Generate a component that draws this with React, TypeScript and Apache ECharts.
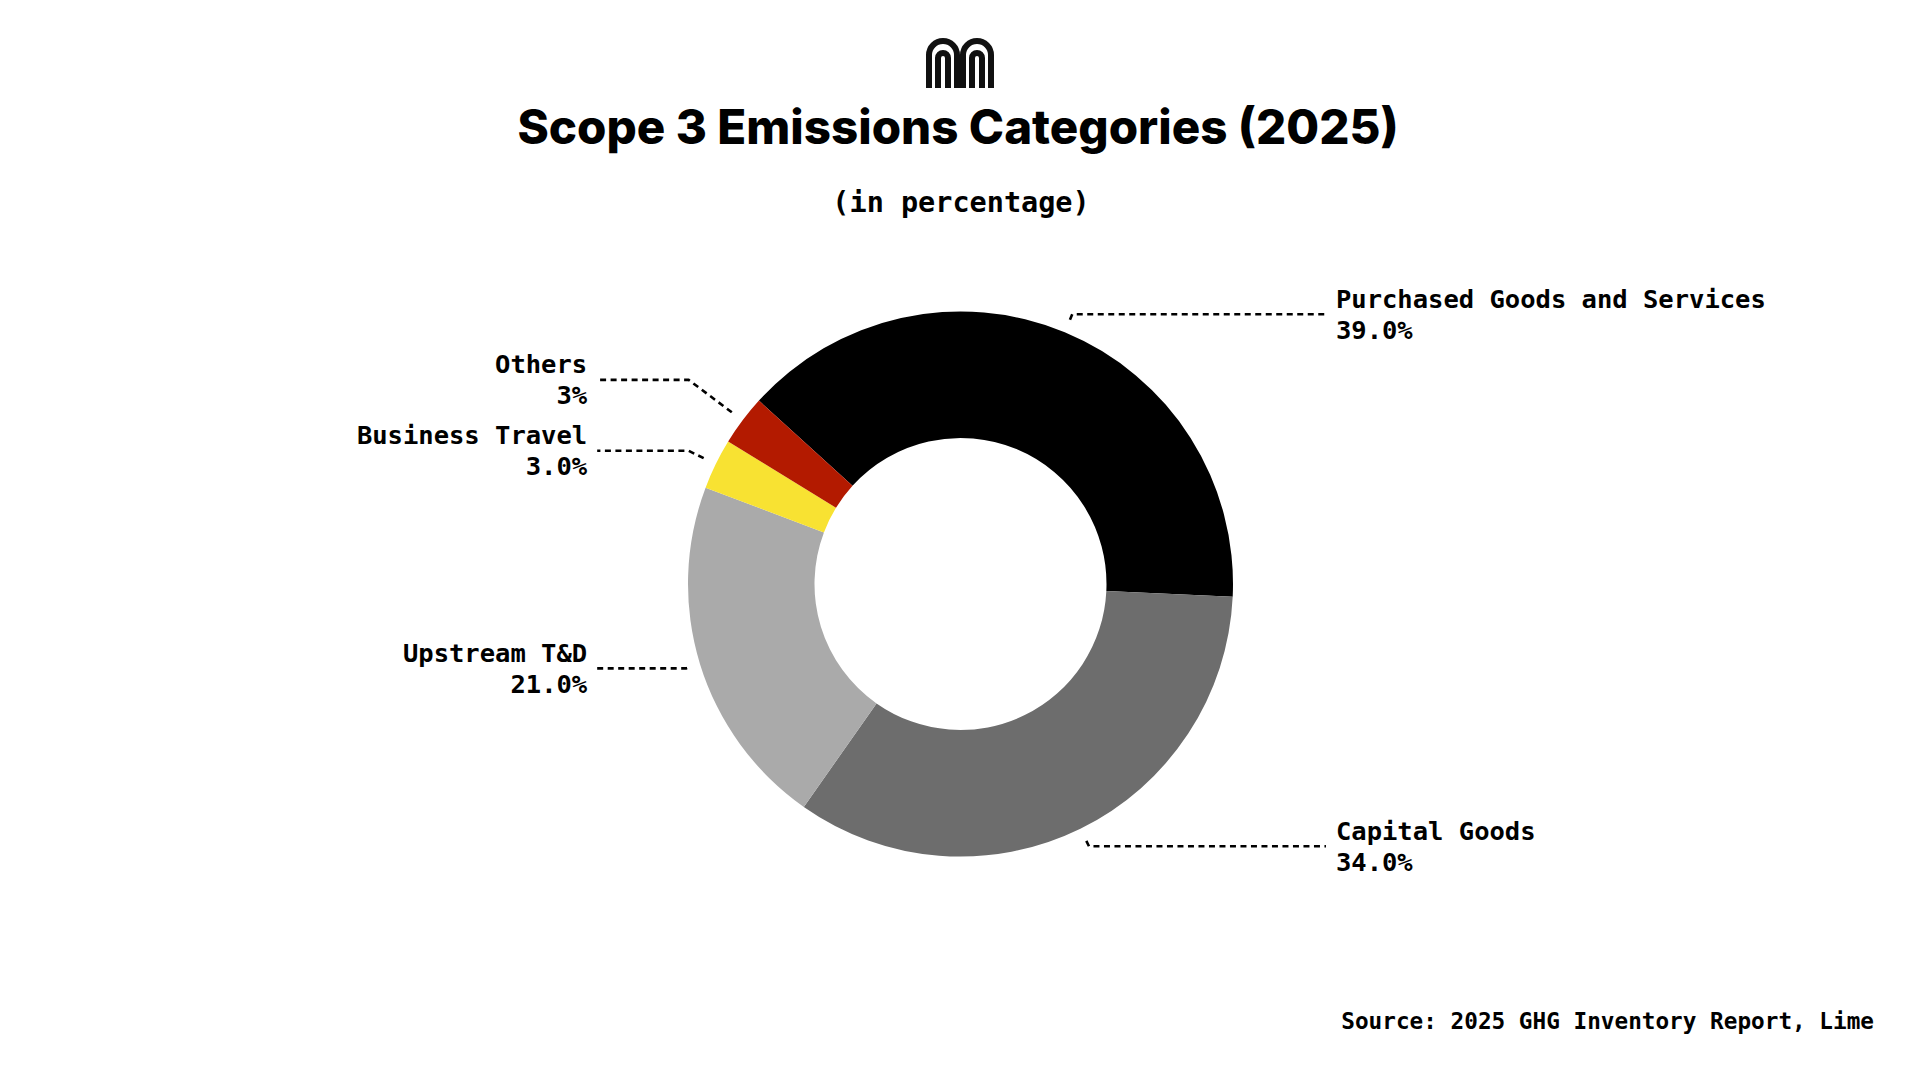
import React, { useEffect, useRef } from "react";
import * as echarts from "echarts";

// ---- data ----
const categories = [
  "Purchased Goods and Services",
  "Capital Goods",
  "Upstream T&D",
  "Business Travel",
  "Others",
];
const shares = [39, 34, 21, 3, 3];
const shareDecimals = [1, 1, 1, 1, 0];
const sliceColors = ["#000000", "#6d6d6d", "#aaaaaa", "#f8e232", "#b31a00"];

const titleText = "Scope 3 Emissions Categories (2025)";
const subtitleText = "(in percentage)";
const sourceText = "Source: 2025 GHG Inventory Report, Lime";

// ---- layout / style ----
const START_ANGLE = 137.7;
const CENTER: [number, number] = [960.5, 584];
const MONO = "'DejaVu Sans Mono', 'Liberation Mono', monospace";

const LOGO_D =
  "M3 50 L3 17 A14 14 0 0 1 31 17 L31 50 " +
  "M12 50 L12 20 A5 5 0 0 1 22 20 L22 50 " +
  "M37 50 L37 17 A14 14 0 0 1 65 17 L65 50 " +
  "M46 50 L46 20 A5 5 0 0 1 56 20 L56 50";

let logoRegistered = false;
function ensureLogo() {
  if (logoRegistered) return;
  echarts.graphic.registerShape("limeLogo", echarts.graphic.extendPath(LOGO_D, {}));
  logoRegistered = true;
}

function leaderLength(name: string) {
  if (name === "Others") return 54;
  if (name === "Business Travel") return 17;
  if (name === "Upstream T&D") return 1;
  return 6;
}

function buildOption() {
  const total = shares.reduce((a, b) => a + b, 0);
  let acc = 0;
  const sides = shares.map((v) => {
    const mid = (((90 - START_ANGLE + ((acc + v / 2) / total) * 360) % 360) + 360) % 360;
    acc += v;
    return mid < 180 ? "right" : "left";
  });

  const ringData = categories.map((name, i) => ({
    name,
    value: shares[i],
    itemStyle: { color: sliceColors[i] },
  }));

  const labelData = categories.map((name, i) => ({
    name,
    value: shares[i],
    labelLine: {
      length: leaderLength(name),
      length2: sides[i] === "right" ? 237 : 89,
    },
  }));

  return {
    animation: false,
    backgroundColor: "#ffffff",
    graphic: [
      {
        type: "limeLogo",
        x: 926,
        y: 38,
        silent: true,
        style: { fill: "none", stroke: "#111111", lineWidth: 6 },
      },
      {
        type: "text",
        x: 958,
        y: 126,
        silent: true,
        style: {
          text: titleText,
          fontFamily: "Inter, 'Liberation Sans', sans-serif",
          fontWeight: 800,
          fontSize: 47.5,
          fill: "#000000",
          align: "center",
          verticalAlign: "middle",
        },
      },
      {
        type: "text",
        x: 961,
        y: 202,
        silent: true,
        style: {
          text: subtitleText,
          fontFamily: MONO,
          fontWeight: "bold",
          fontSize: 28.5,
          fill: "#000000",
          align: "center",
          verticalAlign: "middle",
        },
      },
      {
        type: "text",
        x: 1874,
        y: 1021,
        silent: true,
        style: {
          text: sourceText,
          fontFamily: MONO,
          fontWeight: "bold",
          fontSize: 22.7,
          fill: "#000000",
          align: "right",
          verticalAlign: "middle",
        },
      },
    ],
    series: [
      {
        type: "pie",
        name: "ring",
        center: CENTER,
        radius: [146, 272.5],
        startAngle: START_ANGLE,
        clockwise: true,
        silent: true,
        label: { show: false },
        labelLine: { show: false },
        emphasis: { disabled: true },
        itemStyle: { borderWidth: 0 },
        data: ringData,
      },
      {
        type: "pie",
        name: "labels",
        center: CENTER,
        radius: [285, 286],
        startAngle: START_ANGLE,
        clockwise: true,
        silent: true,
        avoidLabelOverlap: true,
        emphasis: { disabled: true },
        itemStyle: { color: "rgba(0,0,0,0)", borderWidth: 0 },
        label: {
          show: true,
          position: "outer",
          alignTo: "labelLine",
          distanceToLabelLine: 10,
          edgeDistance: 10,
          color: "#000000",
          fontFamily: MONO,
          fontWeight: "bold",
          fontSize: 25.5,
          lineHeight: 31,
          formatter: (p: any) =>
            p.name + "\n" + shares[p.dataIndex].toFixed(shareDecimals[p.dataIndex]) + "%",
        },
        labelLine: {
          show: true,
          smooth: false,
          lineStyle: { color: "#000000", width: 2.6, type: [6, 4.5] },
        },
        data: labelData,
      },
    ],
  };
}

export default function App() {
  const ref = useRef<HTMLDivElement>(null);
  useEffect(() => {
    if (!ref.current) return;
    ensureLogo();
    const chart = echarts.init(ref.current, null, { renderer: "svg" });
    chart.setOption(buildOption() as any);
    return () => chart.dispose();
  }, []);
  return (
    <div
      ref={ref}
      style={{ position: "fixed", left: 0, top: 0, width: 1920, height: 1080, background: "#ffffff" }}
    />
  );
}
